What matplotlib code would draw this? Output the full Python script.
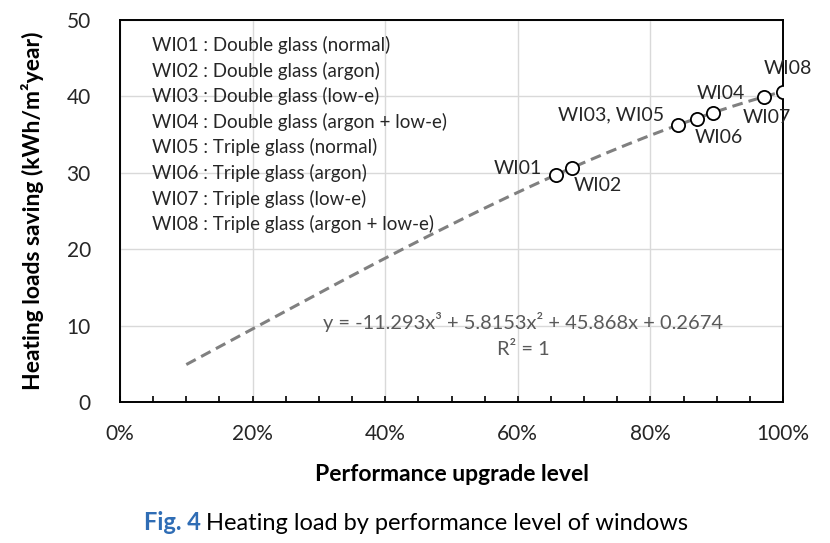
import numpy as np
import matplotlib
matplotlib.use("Agg")
import matplotlib.pyplot as plt
from matplotlib.ticker import MultipleLocator, PercentFormatter

plt.rcParams['font.family'] = ['Lato', 'DejaVu Sans']

# windows and their performance level / heating load saving
labels = ["WI01", "WI02", "WI03, WI05", "WI06", "WI04", "WI07", "WI08"]
level = [0.658, 0.682, 0.842, 0.870, 0.894, 0.971, 1.000]
saving = [29.7, 30.6, 36.2, 37.1, 37.8, 39.9, 40.6]
# label offsets in pixels (dx, dy, ha)
offsets = [(-14, 7, "right"), (26, -17, "center"), (-14, 11, "right"),
           (22, -19, "center"), (8, 20, "center"), (3, -20, "center"),
           (5, 23, "center")]

# Excel polynomial trendline (shown on chart)
coef = [-11.293, 5.8153, 45.868, 0.2674]
trend_start, trend_end = 0.1, 1.0

legend_lines = [
    "WI01 : Double glass (normal)",
    "WI02 : Double glass (argon)",
    "WI03 : Double glass (low-e)",
    "WI04 : Double glass (argon + low-e)",
    "WI05 : Triple glass (normal)",
    "WI06 : Triple glass (argon)",
    "WI07 : Triple glass (low-e)",
    "WI08 : Triple glass (argon + low-e)",
]

fig = plt.figure(figsize=(8.3, 5.43), dpi=100)
ax = fig.add_axes([120 / 830, 1 - 402 / 543, 663 / 830, 382 / 543])

xs = np.linspace(trend_start, trend_end, 200)
ax.plot(xs, np.polyval(coef, xs), color="#808080", lw=2.2, ls=(0, (3.5, 2)), zorder=2)
ax.plot(level, saving, "o", ms=9.5, mfc="white", mec="black", mew=1.3, zorder=3)

for lab, x, y, (dx, dy, ha) in zip(labels, level, saving, offsets):
    ax.annotate(lab, (x, y), xytext=(dx, dy), textcoords="offset pixels",
                ha=ha, va="center", fontsize=14, color="#262626",
                annotation_clip=False)

ax.set_xlim(0, 1)
ax.set_ylim(0, 50)
ax.xaxis.set_major_locator(MultipleLocator(0.2))
ax.xaxis.set_minor_locator(MultipleLocator(0.05))
ax.yaxis.set_major_locator(MultipleLocator(10))
ax.xaxis.set_major_formatter(PercentFormatter(1.0, decimals=0))
ax.grid(True, which="major", color="#d9d9d9", lw=1)
ax.set_axisbelow(True)
ax.tick_params(axis="x", which="both", direction="in", length=4, width=1.2,
               labelsize=15, pad=16, colors="black", labelcolor="#262626")
ax.tick_params(axis="y", length=0, labelsize=15, pad=21, labelcolor="#262626")
for s in ax.spines.values():
    s.set_linewidth(1.4)
    s.set_color("black")

ax.set_xlabel("Performance upgrade level", fontsize=16.5, fontweight="bold", labelpad=14)
ax.set_ylabel("Heating loads saving (kWh/m²year)", fontsize=16.5, fontweight="bold", labelpad=16)

ax.text(0.048, 0.958, "\n".join(legend_lines), transform=ax.transAxes, va="top", ha="left",
        fontsize=13.5, color="#262626", linespacing=1.5)

ax.text(0.608, 10.5, "y = -11.293x³ + 5.8153x² + 45.868x + 0.2674", ha="center", va="center",
        fontsize=14.4, color="#595959")
ax.text(0.608, 6.9, "R² = 1", ha="center", va="center", fontsize=14.4, color="#595959")

fig.text(201 / 830, 1 - 523 / 543, "Fig. 4", ha="right", va="center", fontsize=17,
         fontweight="bold", color="#2f6db5")
fig.text(206 / 830, 1 - 523 / 543, "Heating load by performance level of windows", ha="left",
         va="center", fontsize=17, color="black")

fig.savefig("out.png", dpi=100)
